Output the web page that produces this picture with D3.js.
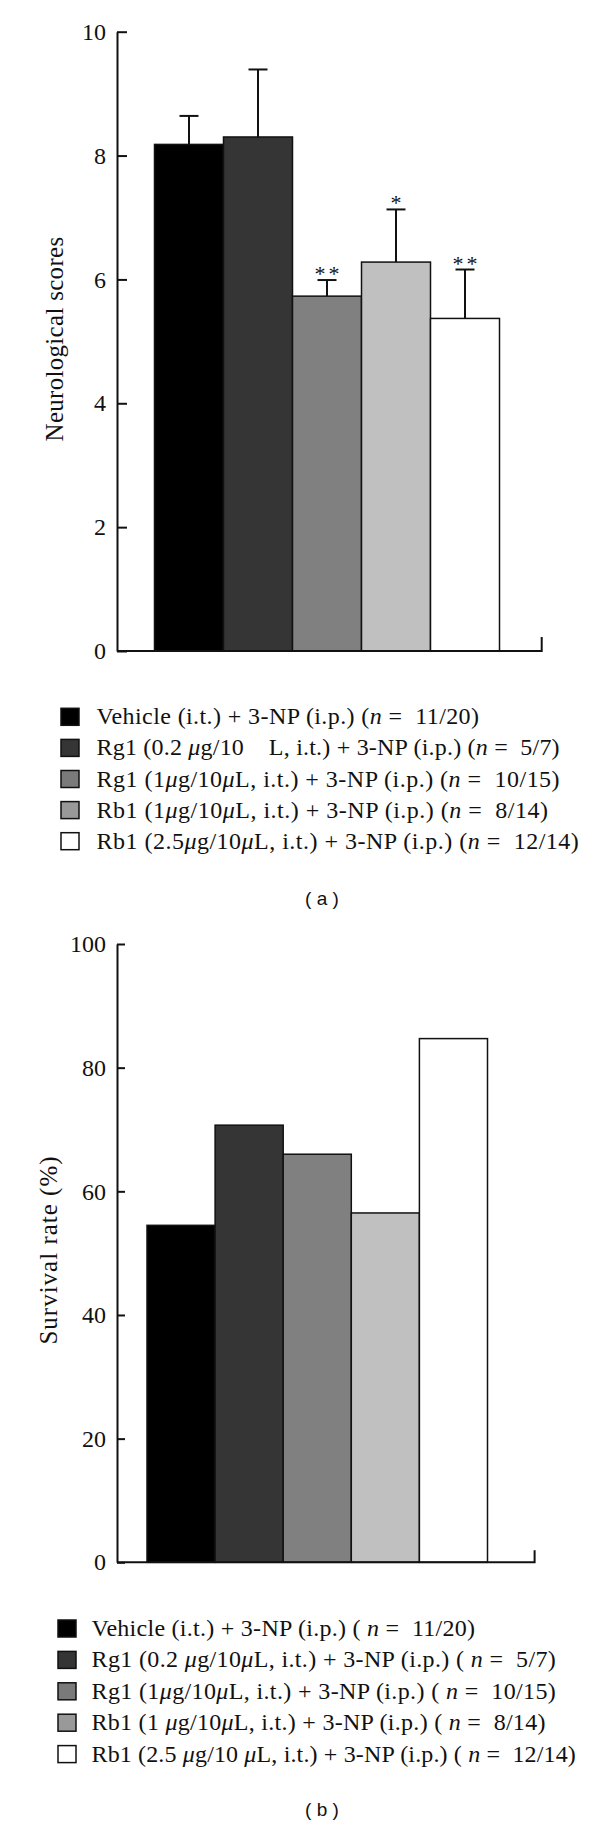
<!DOCTYPE html>
<html>
<head>
<meta charset="utf-8">
<script src="https://cdn.jsdelivr.net/npm/d3@7"></script>
<style>
  body { margin: 0; background: #fff; }
  svg { display: block; }
  text { font-family: "Liberation Serif", "Times New Roman", serif; fill: #111; white-space: pre; }
</style>
</head>
<body>
<svg id="chart" width="600" height="1825"></svg>
<script>
var groups = ['Vehicle', 'Rg1 0.2', 'Rg1 1', 'Rb1 1', 'Rb1 2.5'];
var barFills = ['#000000', '#353535', '#808080', '#c0c0c0', '#ffffff'];
var swatchFills = ['#000000', '#353535', '#7a7a7a', '#999999', '#ffffff'];

// (a) neurological scores, mean and SEM
var scoreMeans = [8.18, 8.30, 5.73, 6.28, 5.37];
var scoreErrors = [0.46, 1.09, 0.26, 0.85, 0.79];
var scoreMarks = ['', '', '**', '*', '**'];
var scoreTicks = [0, 2, 4, 6, 8, 10];

// (b) survival rate, %
var survival = [54.5, 70.7, 66.0, 56.5, 84.7];
var survivalTicks = [0, 20, 40, 60, 80, 100];

// {..} = italic
var legendA = [
  'Vehicle (i.t.) + 3-NP (i.p.) ({n} =  11/20)',
  'Rg1 (0.2 {μ}g/10    L, i.t.) + 3-NP (i.p.) ({n} =  5/7)',
  'Rg1 (1{μ}g/10{μ}L, i.t.) + 3-NP (i.p.) ({n} =  10/15)',
  'Rb1 (1{μ}g/10{μ}L, i.t.) + 3-NP (i.p.) ({n} =  8/14)',
  'Rb1 (2.5{μ}g/10{μ}L, i.t.) + 3-NP (i.p.) ({n} =  12/14)'
];
var legendB = [
  'Vehicle (i.t.) + 3-NP (i.p.) ( {n} =  11/20)',
  'Rg1 (0.2 {μ}g/10{μ}L, i.t.) + 3-NP (i.p.) ( {n} =  5/7)',
  'Rg1 (1{μ}g/10{μ}L, i.t.) + 3-NP (i.p.) ( {n} =  10/15)',
  'Rb1 (1 {μ}g/10{μ}L, i.t.) + 3-NP (i.p.) ( {n} =  8/14)',
  'Rb1 (2.5 {μ}g/10 {μ}L, i.t.) + 3-NP (i.p.) ( {n} =  12/14)'
];

// right edge of each legend line, as set in the figure
var legendEndsA = [479, 559.6, 559.6, 548, 578.8];
var legendEndsB = [475, 555.8, 555.8, 545.4, 575.8];

var svg = d3.select('#chart');

var writeRich = function(sel, str) {
  str.split(/(\{[^}]*\})/).filter(function(s) { return s.length; }).forEach(function(part) {
    var italic = part.charAt(0) === '{';
    sel.append('tspan')
      .style('font-style', italic ? 'italic' : 'normal')
      .text(italic ? part.slice(1, -1) : part);
  });
};

var drawPanel = function(o) {
  var g = svg.append('g'),

      y = d3.scaleLinear().domain([0, o.max]).range([o.y0, o.y1]),

      x = d3.scaleBand().domain(groups).range([o.bx0, o.bx1]).padding(0);

  g.selectAll('rect.bar')
    .data(o.values)
    .enter()
      .append('rect')
      .attr('class', 'bar')
      .attr('x', function(d, i) { return x(groups[i]); })
      .attr('y', function(d) { return y(d); })
      .attr('width', x.bandwidth())
      .attr('height', function(d) { return y(0) - y(d); })
      .attr('fill', function(d, i) { return barFills[i]; })
      .attr('stroke', '#111')
      .attr('stroke-width', 1.5);

  if (o.errors) {
    o.values.forEach(function(v, i) {
      var cx = x(groups[i]) + x.bandwidth() / 2,
          top = y(v + o.errors[i]);
      g.append('line')
        .attr('x1', cx).attr('x2', cx)
        .attr('y1', y(v)).attr('y2', top)
        .attr('stroke', '#111').attr('stroke-width', 2);
      g.append('line')
        .attr('x1', cx - 9.5).attr('x2', cx + 9.5)
        .attr('y1', top).attr('y2', top)
        .attr('stroke', '#111').attr('stroke-width', 2);
      if (o.marks[i])
        g.append('text')
          .attr('x', cx + 1.5)
          .attr('y', top + 1)
          .attr('text-anchor', 'middle')
          .attr('font-size', 22)
          .attr('letter-spacing', 3)
          .text(o.marks[i]);
    });
  }

  // y axis, ticks pointing inwards
  var axis = g.append('g')
    .attr('transform', 'translate(' + o.ax + ',0)')
    .call(d3.axisLeft(y)
      .tickValues(o.ticks)
      .tickSizeInner(-o.tick)
      .tickSizeOuter(0)
      .tickPadding(11)
      .tickFormat(d3.format('d')));

  axis.select('.domain').attr('stroke', '#111').attr('stroke-width', 2);
  axis.selectAll('.tick line').attr('stroke', '#111').attr('stroke-width', 2);
  axis.selectAll('.tick text')
    .attr('font-family', '"Liberation Serif", serif')
    .attr('font-size', 24)
    .attr('fill', '#111');

  // x axis with small end tick
  g.append('path')
    .attr('d', 'M' + o.ax + ',' + y(0) + 'H' + o.xEnd + 'V' + (y(0) - o.endTick))
    .attr('fill', 'none')
    .attr('stroke', '#111')
    .attr('stroke-width', 2);

  g.append('text')
    .attr('transform', 'translate(' + o.labelX + ',' + o.labelY + ') rotate(-90)')
    .attr('text-anchor', 'middle')
    .attr('font-size', 25)
    .attr('letter-spacing', o.labelSpacing)
    .text(o.label);

  // legend
  o.legend.forEach(function(str, i) {
    var top = o.legTop + i * o.legStep;
    g.append('rect')
      .attr('x', o.legX).attr('y', top)
      .attr('width', 18).attr('height', 17)
      .attr('fill', swatchFills[i])
      .attr('stroke', '#111')
      .attr('stroke-width', 1.5);
    var t = g.append('text')
      .attr('x', o.legTextX)
      .attr('y', top + 16)
      .attr('font-size', 24)
      .attr('textLength', o.legEnds[i] - o.legTextX)
      .attr('lengthAdjust', 'spacing');
    writeRich(t, str);
  });

  g.append('text')
    .attr('x', 322)
    .attr('y', o.capY)
    .attr('text-anchor', 'middle')
    .style('font-family', '"Liberation Sans", Arial, sans-serif')
    .attr('font-size', 19)
    .text(o.caption);
};

drawPanel({
  values: scoreMeans, errors: scoreErrors, marks: scoreMarks, ticks: scoreTicks, max: 10,
  y0: 651, y1: 31.7, bx0: 154.5, bx1: 499.5, ax: 117, tick: 10, xEnd: 541.7, endTick: 14,
  label: 'Neurological scores', labelX: 63, labelY: 339, labelSpacing: 0.3,
  legend: legendA, legEnds: legendEndsA, legX: 61, legTextX: 96.5, legTop: 708.3, legStep: 31.1,
  caption: '( a )', capY: 905
});

drawPanel({
  values: survival, ticks: survivalTicks, max: 100,
  y0: 1562.3, y1: 944, bx0: 147, bx1: 487.5, ax: 117, tick: 8, xEnd: 534.6, endTick: 12,
  label: 'Survival rate (%)', labelX: 57, labelY: 1250, labelSpacing: 1,
  legend: legendB, legEnds: legendEndsB, legX: 58, legTextX: 91.5, legTop: 1620, legStep: 31.4,
  caption: '( b )', capY: 1816
});
</script>
</body>
</html>
